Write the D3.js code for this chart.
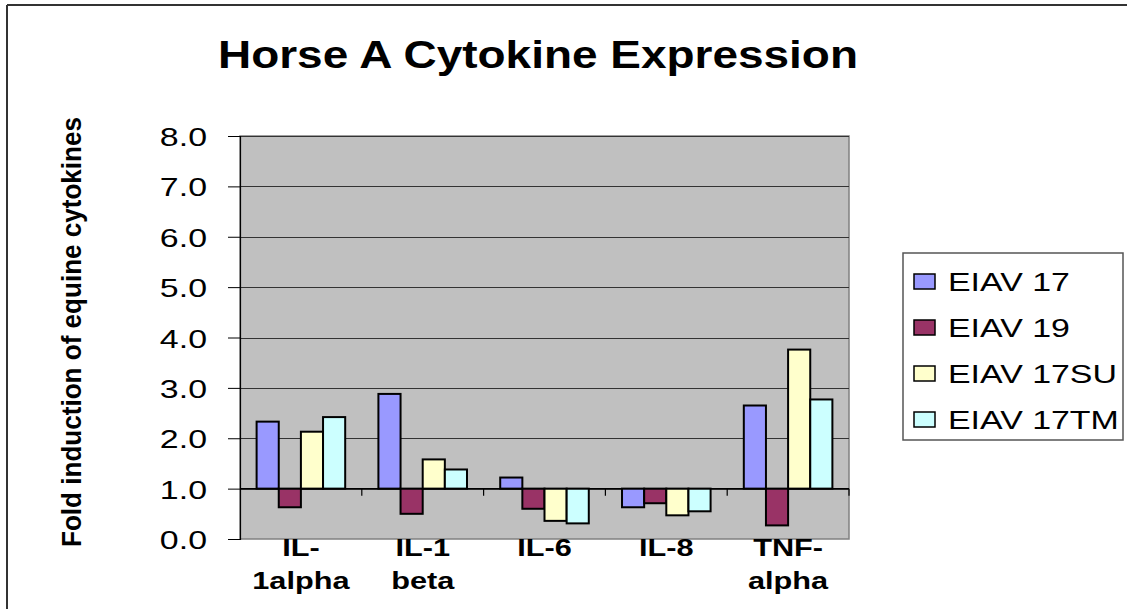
<!DOCTYPE html>
<html>
<head>
<meta charset="utf-8">
<script src="https://cdn.jsdelivr.net/npm/d3@7"></script>
<style>
  html, body { margin: 0; padding: 0; background: #fff; }
  svg { display: block; font-family: "Liberation Sans", Arial, sans-serif; }
</style>
</head>
<body>
<svg id="chart" width="1127" height="609"></svg>
<script>
// ---- data ----
const categories = ["IL-1alpha", "IL-1 beta", "IL-6", "IL-8", "TNF-alpha"];
const categoryLabels = [["IL-", "1alpha"], ["IL-1", "beta"], ["IL-6"], ["IL-8"], ["TNF-", "alpha"]];
const seriesNames = ["EIAV 17", "EIAV 19", "EIAV 17SU", "EIAV 17TM"];
const eiav17   = [2.33, 2.88, 1.22, 0.63, 2.65];
const eiav19   = [0.63, 0.50, 0.60, 0.71, 0.27];
const eiav17su = [2.13, 1.58, 0.36, 0.47, 3.76];
const eiav17tm = [2.42, 1.38, 0.31, 0.55, 2.77];
const seriesColors = ["#9999FF", "#993366", "#FFFFCC", "#CCFFFF"];
const yTicks = [0, 1, 2, 3, 4, 5, 6, 7, 8];
const baseline = 1.0;
const titleText = "Horse A Cytokine Expression";
const yTitle = "Fold induction of equine cytokines";

const seriesValues = [eiav17, eiav19, eiav17su, eiav17tm];
const SX = 1.28; // horizontal stretch of the original picture's text

const svg = d3.select("#chart");

// outer chart border (top and left visible)
svg.append("line").attr("x1", 7).attr("y1", 5).attr("x2", 1127).attr("y2", 5)
  .attr("stroke", "#333").attr("stroke-width", 2);
svg.append("line").attr("x1", 7).attr("y1", 5).attr("x2", 7).attr("y2", 609)
  .attr("stroke", "#333").attr("stroke-width", 2);

const plot = { left: 240, right: 849, top: 136, bottom: 539 };

const x = d3.scaleBand().domain(categories).range([plot.left, plot.right]).paddingInner(0).paddingOuter(0);
const xs = d3.scaleBand().domain(seriesNames).range([0, x.bandwidth()]).paddingInner(0).paddingOuter(0.75);
const y = d3.scaleLinear().domain([0, 8]).range([plot.bottom, plot.top]);

// plot area
svg.append("rect")
  .attr("x", plot.left).attr("y", plot.top)
  .attr("width", plot.right - plot.left).attr("height", plot.bottom - plot.top)
  .attr("fill", "#C0C0C0").attr("stroke", "#808080").attr("stroke-width", 1.5);

// gridlines
svg.append("g").selectAll("line").data(yTicks.filter(t => t > 0)).join("line")
  .attr("x1", plot.left).attr("x2", plot.right)
  .attr("y1", d => Math.round(y(d)) + 0.5).attr("y2", d => Math.round(y(d)) + 0.5)
  .attr("stroke", "#333").attr("stroke-width", 1);

// y axis
const yAxis = d3.axisLeft(y).tickValues(yTicks).tickSize(12).tickFormat(d3.format(".1f"));
const gy = svg.append("g").attr("transform", `translate(${plot.left},0)`).call(yAxis);
gy.select(".domain").attr("stroke", "#000").attr("stroke-width", 1.2);
gy.selectAll(".tick line").attr("stroke", "#000");
gy.selectAll(".tick text").remove();
gy.selectAll(".tick").append("text")
  .attr("transform", `translate(-33, 9.5) scale(${SX},1)`)
  .attr("text-anchor", "end")
  .attr("font-size", 26.5)
  .attr("fill", "#000")
  .text(d => d3.format(".1f")(d));

// bars
const barData = [];
categories.forEach((c, i) => {
  seriesNames.forEach((s, j) => {
    barData.push({ c, s, v: seriesValues[j][i], color: seriesColors[j] });
  });
});
svg.append("g").selectAll("rect").data(barData).join("rect")
  .attr("x", d => x(d.c) + xs(d.s))
  .attr("width", xs.bandwidth())
  .attr("y", d => y(Math.max(d.v, baseline)))
  .attr("height", d => Math.abs(y(d.v) - y(baseline)))
  .attr("fill", d => d.color)
  .attr("stroke", "#000").attr("stroke-width", 2);

// category axis at baseline 1.0
const by = y(baseline);
svg.append("line").attr("x1", plot.left).attr("x2", plot.right).attr("y1", by).attr("y2", by)
  .attr("stroke", "#000").attr("stroke-width", 1.2);
const boundaries = categories.map(c => x(c) + x.bandwidth());
svg.append("g").selectAll("line").data(boundaries).join("line")
  .attr("x1", d => d).attr("x2", d => d).attr("y1", by).attr("y2", by + 7)
  .attr("stroke", "#000").attr("stroke-width", 1.2);

// category labels
const labG = svg.append("g");
categories.forEach((c, i) => {
  const cx = x(c) + x.bandwidth() / 2;
  categoryLabels[i].forEach((line, k) => {
    labG.append("text")
      .attr("transform", `translate(${cx}, ${556 + k * 33}) scale(${SX},1)`)
      .attr("text-anchor", "middle")
      .attr("font-size", 24).attr("font-weight", "bold")
      .attr("fill", "#000")
      .text(line);
  });
});

// title
svg.append("text")
  .attr("x", 538).attr("y", 68)
  .attr("text-anchor", "middle")
  .attr("font-size", 39).attr("font-weight", "bold")
  .attr("textLength", 640).attr("lengthAdjust", "spacingAndGlyphs")
  .attr("fill", "#000")
  .text(titleText);

// y title
svg.append("text")
  .attr("transform", "translate(81, 332) rotate(-90)")
  .attr("text-anchor", "middle")
  .attr("font-size", 28).attr("font-weight", "bold")
  .attr("textLength", 430).attr("lengthAdjust", "spacingAndGlyphs")
  .attr("fill", "#000")
  .text(yTitle);

// legend
const leg = svg.append("g");
leg.append("rect").attr("x", 903).attr("y", 253).attr("width", 220).attr("height", 187)
  .attr("fill", "#fff").attr("stroke", "#555").attr("stroke-width", 1.5);
seriesNames.forEach((s, j) => {
  const base = 291 + j * 46;
  leg.append("rect").attr("x", 914).attr("y", base - 17).attr("width", 21).attr("height", 15)
    .attr("fill", seriesColors[j]).attr("stroke", "#000").attr("stroke-width", 1.5);
  leg.append("text")
    .attr("transform", `translate(948, ${base}) scale(${SX},1)`)
    .attr("font-size", 26.5).attr("fill", "#000")
    .text(s);
});
</script>
</body>
</html>
